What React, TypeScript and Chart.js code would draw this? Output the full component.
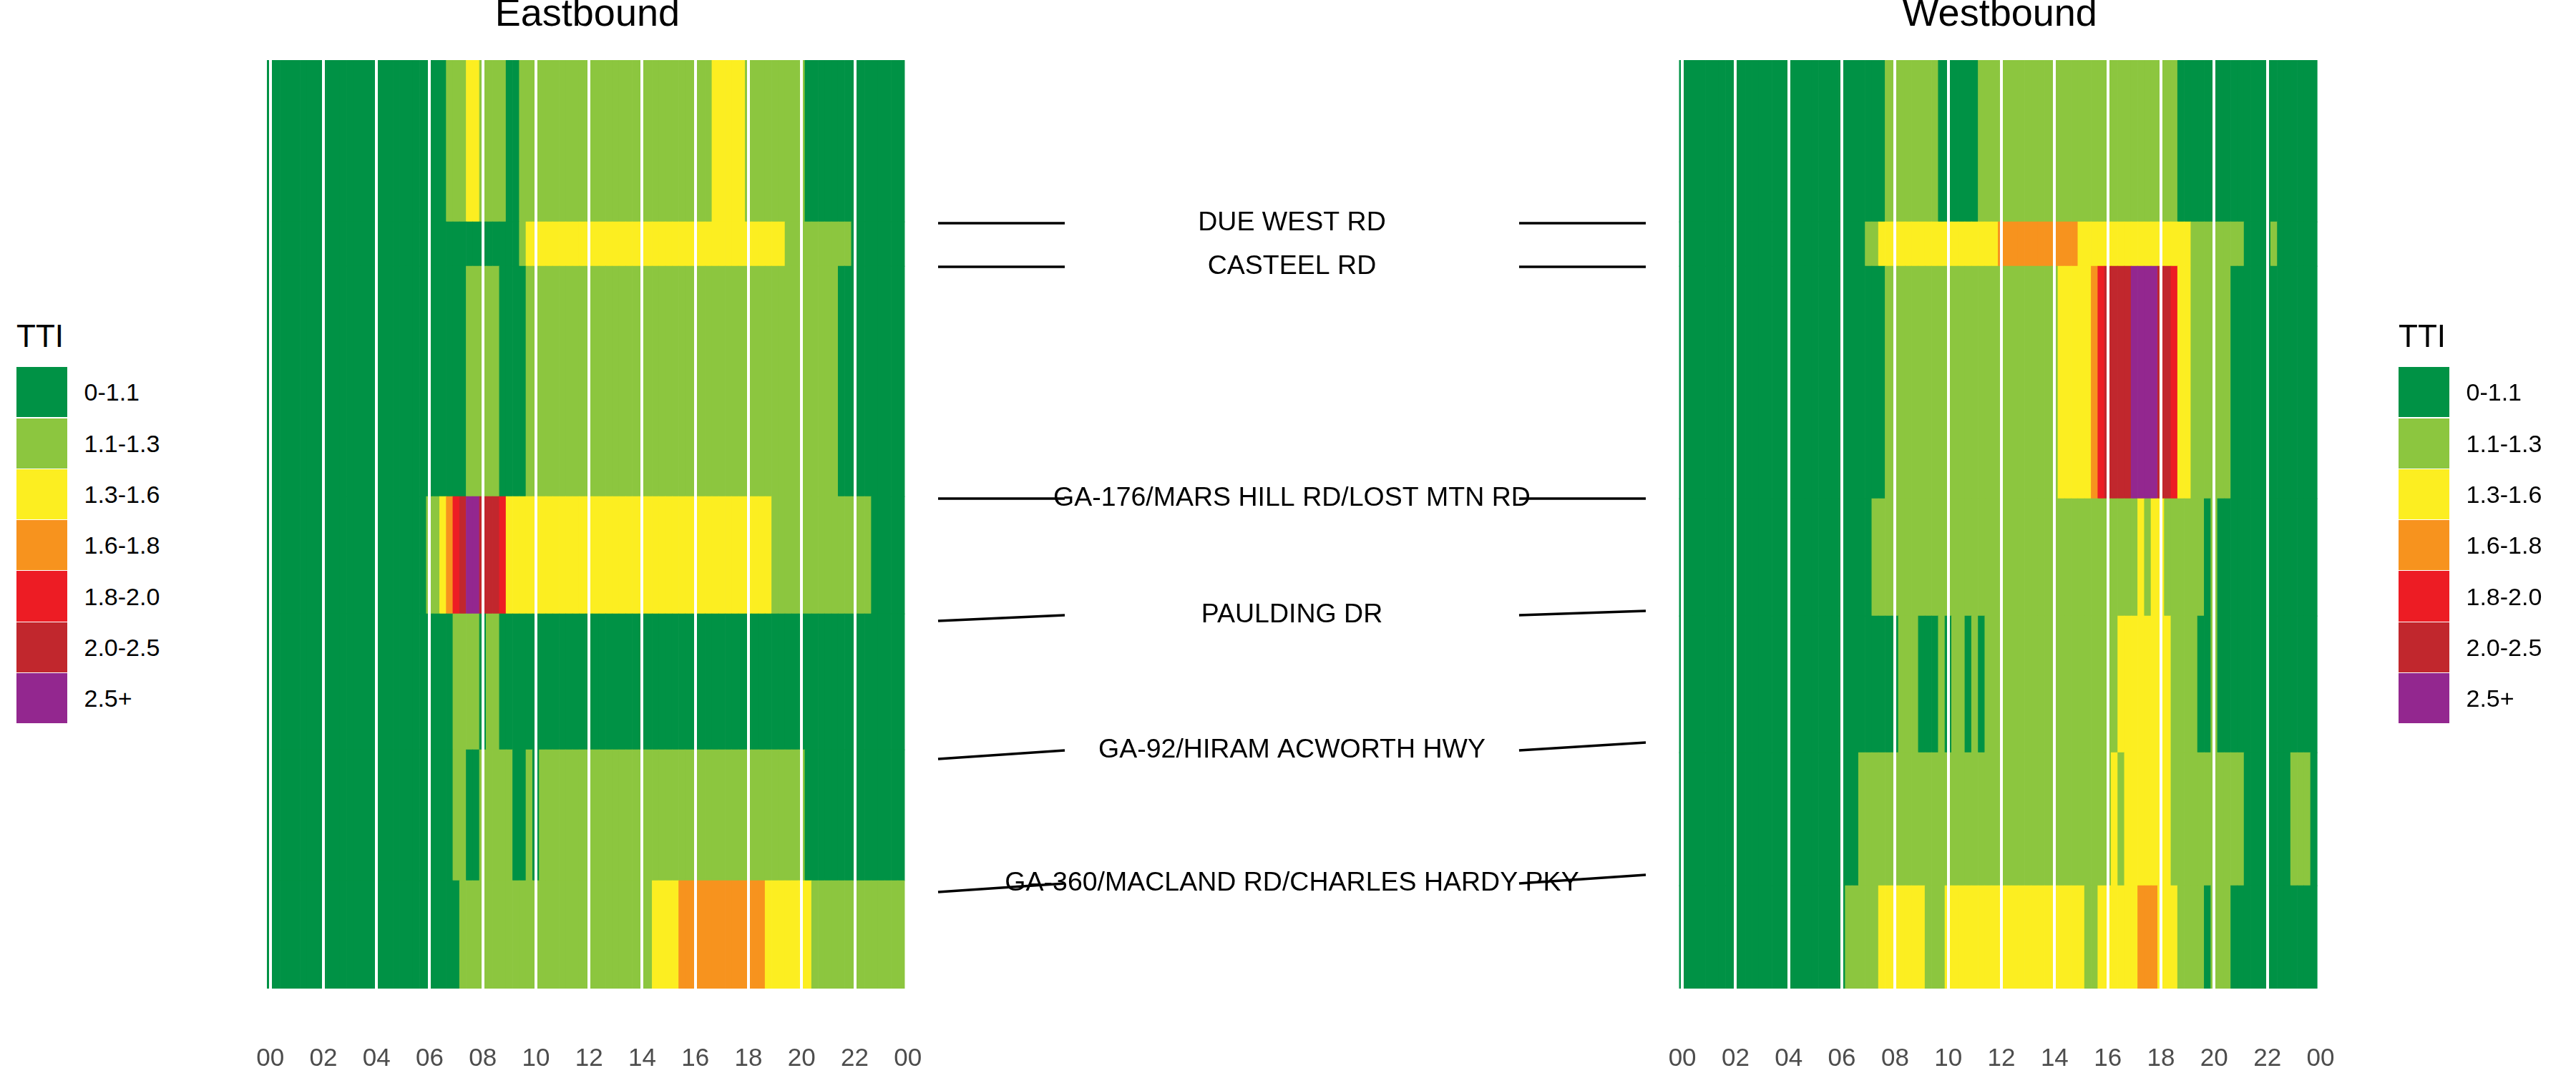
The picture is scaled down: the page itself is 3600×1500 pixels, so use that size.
import React, { useEffect, useRef } from "react";
import { Chart, registerables } from "chart.js";

Chart.register(...registerables);

const FONT = "'Liberation Sans', Arial, Helvetica, sans-serif";

// ---------- data ----------
const TTI_CLASSES = ["0-1.1", "1.1-1.3", "1.3-1.6", "1.6-1.8", "1.8-2.0", "2.0-2.5", "2.5+"];
const TTI_COLORS = ["#009245", "#8CC63F", "#FCEE21", "#F7931E", "#ED1C24", "#C1272D", "#93278F"];

const HOUR_TICKS = [0, 2, 4, 6, 8, 10, 12, 14, 16, 18, 20, 22, 24];
const HOUR_LABELS = ["00", "02", "04", "06", "08", "10", "12", "14", "16", "18", "20", "22", "00"];
const BIN_HOURS = 0.25; // 15-minute bins, 96 per day

const SEGMENT_LABELS = [
  "DUE WEST RD",
  "CASTEEL RD",
  "GA-176/MARS HILL RD/LOST MTN RD",
  "PAULDING DR",
  "GA-92/HIRAM ACWORTH HWY",
  "GA-360/MACLAND RD/CHARLES HARDY PKY",
];

// segment lengths (miles), top to bottom
const EB_SEGMENT_MILES = [2.26, 0.62, 3.22, 1.64, 1.9, 1.83, 1.51];
const WB_SEGMENT_MILES = [2.26, 0.62, 3.25, 1.64, 1.91, 1.86, 1.44];

// label positions (miles from top) and connector ends on each side
const LABEL_MILE = [2.28, 2.89, 6.13, 7.76, 9.65, 11.51];
const EB_LINK_MILE = [2.28, 2.89, 6.13, 7.84, 9.77, 11.63];
const WB_LINK_MILE = [2.28, 2.89, 6.13, 7.7, 9.54, 11.39];

// TTI class runs per segment: [class index, number of 15-min bins] starting at 00:00
const EB_SEG1 = [[0, 27], [1, 3], [2, 2], [1, 4], [0, 2], [1, 29], [2, 5], [1, 9], [0, 15]];
const EB_SEG2 = [[0, 38], [1, 1], [2, 39], [1, 10], [0, 8]];
const EB_SEG3 = [[0, 30], [1, 5], [0, 4], [1, 47], [0, 10]];
const EB_SEG4 = [[0, 24], [1, 2], [2, 1], [3, 1], [4, 1], [5, 1], [6, 2], [5, 3], [4, 1], [2, 40], [1, 15], [0, 5]];
const EB_SEG5 = [[0, 28], [1, 4], [0, 1], [1, 2], [0, 61]];
const EB_SEG6 = [[0, 28], [1, 2], [0, 2], [1, 5], [0, 2], [1, 1], [0, 1], [1, 40], [0, 15]];
const EB_SEG7 = [[0, 29], [1, 29], [2, 4], [3, 13], [2, 7], [1, 14]];

const WB_SEG1 = [[0, 31], [1, 8], [0, 6], [1, 30], [0, 21]];
const WB_SEG2 = [[0, 28], [1, 2], [2, 18], [3, 12], [2, 17], [1, 8], [0, 4], [1, 1], [0, 6]];
const WB_SEG3 = [[0, 31], [1, 26], [2, 5], [3, 1], [4, 1], [5, 4], [6, 4], [5, 2], [4, 1], [2, 2], [1, 6], [0, 13]];
const WB_SEG4 = [[0, 29], [1, 40], [2, 1], [1, 1], [2, 2], [1, 6], [0, 1], [1, 1], [0, 15]];
const WB_SEG5 = [[0, 33], [1, 3], [0, 3], [1, 1], [0, 1], [1, 2], [0, 1], [1, 1], [0, 1], [1, 20], [2, 8], [1, 4], [0, 2], [1, 1], [0, 15]];
const WB_SEG6 = [[0, 27], [1, 38], [2, 1], [1, 1], [2, 7], [1, 11], [0, 7], [1, 3], [0, 1]];
const WB_SEG7 = [[0, 25], [1, 5], [2, 7], [1, 3], [2, 21], [1, 2], [2, 6], [3, 3], [2, 3], [1, 4], [0, 1], [1, 3], [0, 13]];

const EB_ROWS = [EB_SEG1, EB_SEG2, EB_SEG3, EB_SEG4, EB_SEG5, EB_SEG6, EB_SEG7];
const WB_ROWS = [WB_SEG1, WB_SEG2, WB_SEG3, WB_SEG4, WB_SEG5, WB_SEG6, WB_SEG7];

// ---------- helpers ----------
function sum(a: number[]) {
  return a.reduce((s, v) => s + v, 0);
}

function buildCells(segMiles: number[], rows: number[][][]) {
  const bounds = [0];
  segMiles.forEach((m) => bounds.push(bounds[bounds.length - 1] + m));
  const data: { x: number; y: [number, number] }[] = [];
  const colors: string[] = [];
  rows.forEach((runs, r) => {
    let bin = 0;
    runs.forEach(([cls, n]) => {
      for (let k = 0; k < n; k++) {
        data.push({ x: (bin + k) * BIN_HOURS, y: [bounds[r], bounds[r + 1]] });
        colors.push(TTI_COLORS[cls]);
      }
      bin += n;
    });
  });
  return { data, colors };
}

const TOP = 84.1;
const BOTTOM = 1382.1;
const PAGE_H = 1500;
const SIDE = 130; // canvas room beside the plot area (room for tick labels)

type HeatProps = {
  title: string;
  segMiles: number[];
  rows: number[][][];
  areaLeft: number;
  areaWidth: number;
};

function Heatmap({ title, segMiles, rows, areaLeft, areaWidth }: HeatProps) {
  const ref = useRef<HTMLCanvasElement | null>(null);
  const canvasLeft = Math.floor(areaLeft) - SIDE;
  const padLeft = areaLeft - canvasLeft;
  const canvasWidth = Math.ceil(areaWidth + padLeft + SIDE);
  const padRight = canvasWidth - padLeft - areaWidth;

  useEffect(() => {
    if (!ref.current) return;
    const { data, colors } = buildCells(segMiles, rows);
    const chart = new Chart(ref.current, {
      type: "bar",
      data: {
        datasets: [
          {
            data: data as any,
            backgroundColor: colors,
            borderWidth: 0,
            barPercentage: 1,
            categoryPercentage: 1,
          },
        ],
      },
      options: {
        responsive: false,
        animation: false,
        events: [],
        layout: { padding: { left: padLeft, right: padRight, top: 0, bottom: 0 } },
        plugins: {
          legend: { display: false },
          tooltip: { enabled: false },
          colors: { enabled: false },
          title: {
            display: true,
            text: title,
            color: "#000000",
            font: { family: FONT, size: 54, weight: "normal", lineHeight: 0.75 },
            padding: { top: 1, bottom: TOP - 1 - 54 * 0.75 },
          },
        },
        scales: {
          x: {
            type: "linear",
            min: -BIN_HOURS / 2,
            max: 24,
            offset: false,
            afterBuildTicks: (s: any) => {
              s.ticks = HOUR_TICKS.map((v) => ({ value: v }));
            },
            afterFit: (s: any) => {
              s.height = PAGE_H - BOTTOM;
            },
            ticks: {
              autoSkip: false,
              maxRotation: 0,
              minRotation: 0,
              padding: 1480.5 - BOTTOM - 21,
              color: "#4D4D4D",
              font: { family: FONT, size: 35 },
              callback: (v: any) => {
                const i = HOUR_TICKS.indexOf(Number(v));
                return i >= 0 ? HOUR_LABELS[i] : "";
              },
            },
            grid: { color: "#FFFFFF", lineWidth: 4, drawTicks: false, offset: false, z: 1 } as any,
            border: { display: false },
          },
          y: {
            type: "linear",
            display: false,
            reverse: true,
            min: 0,
            max: sum(segMiles),
          },
        },
      } as any,
    });
    return () => chart.destroy();
  }, []);

  return (
    <canvas
      ref={ref}
      width={canvasWidth}
      height={PAGE_H}
      style={{ position: "absolute", left: canvasLeft, top: 0, width: canvasWidth, height: PAGE_H, display: "block" }}
    />
  );
}

const LINK_SPAN = 0.179;

function Connectors() {
  const ref = useRef<HTMLCanvasElement | null>(null);
  const areaLeft = 1311;
  const areaWidth = 989;
  const canvasLeft = areaLeft - 60;
  const canvasWidth = areaWidth + 120;

  useEffect(() => {
    if (!ref.current) return;
    const lineStyle = {
      borderColor: "#000000",
      backgroundColor: "#000000",
      borderWidth: 3.5,
      pointRadius: 0,
      fill: false,
      tension: 0,
      clip: false,
    };
    const datasets: any[] = [];
    SEGMENT_LABELS.forEach((_, i) => {
      datasets.push({
        ...lineStyle,
        data: [
          { x: 0, y: EB_LINK_MILE[i] },
          { x: LINK_SPAN, y: LABEL_MILE[i] },
        ],
      });
      datasets.push({
        ...lineStyle,
        data: [
          { x: 1 - LINK_SPAN, y: LABEL_MILE[i] },
          { x: 1, y: WB_LINK_MILE[i] },
        ],
      });
    });
    const labelPlugin = {
      id: "segmentLabels",
      beforeDatasetsDraw(chart: any) {
        const { ctx } = chart;
        const xs = chart.scales.x;
        const ys = chart.scales.y;
        ctx.save();
        ctx.font = `37.5px ${FONT}`;
        ctx.fillStyle = "#000000";
        ctx.textAlign = "center";
        ctx.textBaseline = "middle";
        SEGMENT_LABELS.forEach((t, i) => {
          ctx.fillText(t, xs.getPixelForValue(0.5), ys.getPixelForValue(LABEL_MILE[i]));
        });
        ctx.restore();
      },
    };
    const chart = new Chart(ref.current, {
      type: "line",
      data: { datasets },
      options: {
        responsive: false,
        animation: false,
        events: [],
        layout: { padding: { left: 60, right: 60, top: TOP, bottom: PAGE_H - BOTTOM } },
        plugins: {
          legend: { display: false },
          tooltip: { enabled: false },
          title: { display: false },
          colors: { enabled: false },
        },
        scales: {
          x: { type: "linear", display: false, min: 0, max: 1 },
          y: { type: "linear", display: false, reverse: true, min: 0, max: sum(EB_SEGMENT_MILES) },
        },
      } as any,
      plugins: [labelPlugin],
    });
    return () => chart.destroy();
  }, []);

  return (
    <canvas
      ref={ref}
      width={canvasWidth}
      height={PAGE_H}
      style={{ position: "absolute", left: canvasLeft, top: 0, width: canvasWidth, height: PAGE_H, display: "block" }}
    />
  );
}

function Legend({ left }: { left: number }) {
  const boxTop = 512.7;
  const pitch = 71.3;
  return (
    <div style={{ position: "absolute", left, top: 0, zIndex: 2 }}>
      <div
        style={{
          position: "absolute",
          left: 0,
          top: 447.8,
          fontFamily: FONT,
          fontSize: 44,
          lineHeight: "44px",
          color: "#000",
          whiteSpace: "nowrap",
        }}
      >
        TTI
      </div>
      {TTI_CLASSES.map((c, i) => (
        <div
          key={c}
          style={{
            position: "absolute",
            left: 0,
            top: boxTop + i * pitch,
            height: pitch,
            display: "flex",
            alignItems: "center",
            whiteSpace: "nowrap",
          }}
        >
          <div style={{ width: 71, height: pitch - 1, background: TTI_COLORS[i] }} />
          <span
            style={{
              marginLeft: 23.5,
              fontFamily: FONT,
              fontSize: 34,
              lineHeight: "34px",
              color: "#000",
            }}
          >
            {c}
          </span>
        </div>
      ))}
    </div>
  );
}

export default function App() {
  return (
    <div
      style={{
        position: "fixed",
        left: 0,
        top: 0,
        width: 3600,
        height: PAGE_H,
        background: "#FFFFFF",
        overflow: "hidden",
      }}
    >
      <Heatmap title="Eastbound" segMiles={EB_SEGMENT_MILES} rows={EB_ROWS} areaLeft={373.0} areaWidth={24.125 * 37.13} />
      <Connectors />
      <Heatmap title="Westbound" segMiles={WB_SEGMENT_MILES} rows={WB_ROWS} areaLeft={2346.46} areaWidth={24.125 * 37.16} />
      <Legend left={23} />
      <Legend left={3352} />
    </div>
  );
}
